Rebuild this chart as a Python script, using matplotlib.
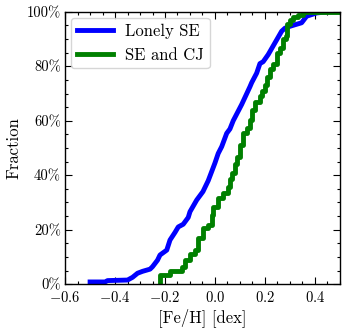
"""Cumulative [Fe/H] distributions for lonely super-Earths vs. SE with cold Jupiters."""

import matplotlib
matplotlib.use("Agg")
import matplotlib.pyplot as plt
from matplotlib.ticker import MultipleLocator, PercentFormatter

plt.rcParams["font.family"] = "serif"
plt.rcParams["font.serif"] = ["cmr10"]
plt.rcParams["mathtext.fontset"] = "cm"
plt.rcParams["axes.formatter.use_mathtext"] = True
plt.rcParams["axes.unicode_minus"] = True

# cumulative curves: [Fe/H] knot and fraction (%)
lonely_feh = [-0.50, -0.44, -0.43, -0.35, -0.33, -0.31, -0.29, -0.26, -0.25, -0.23,
              -0.22, -0.193, -0.18, -0.16, -0.147, -0.127, -0.107, -0.10, -0.073, -0.048,
              -0.027, 0.0, 0.013, 0.027, 0.047, 0.06, 0.073, 0.107, 0.14, 0.147,
              0.167, 0.18, 0.193, 0.213, 0.24, 0.267, 0.28, 0.30, 0.347, 0.367,
              0.407, 0.447, 0.50]
lonely_frac = [0.8, 0.8, 1.3, 1.5, 2.5, 4.0, 4.7, 5.5, 6.4, 8.8,
               10.7, 12.5, 16.2, 19.0, 21.0, 22.0, 24.5, 26.6, 30.9, 34.0,
               38.0, 44.5, 48.0, 50.5, 55.4, 57.0, 60.0, 66.0, 72.5, 74.0,
               77.5, 81.0, 81.7, 84.3, 88.6, 92.9, 94.0, 94.7, 96.0, 98.4,
               99.6, 100.0, 100.0]

cj_feh = [-0.22, -0.22, -0.18, -0.133, -0.12, -0.10, -0.08, -0.067, -0.047, -0.027,
          -0.013, -0.007, 0.013, 0.033, 0.053, 0.06, 0.067, 0.08, 0.087, 0.10,
          0.113, 0.127, 0.14, 0.15, 0.16, 0.18, 0.19, 0.20, 0.21, 0.22,
          0.233, 0.247, 0.26, 0.273, 0.283, 0.287, 0.30, 0.313, 0.333, 0.353, 0.50]
cj_frac = [0.0, 3.3, 4.8, 6.4, 8.8, 10.9, 12.5, 17.0, 20.6, 21.7,
           25.4, 28.4, 31.5, 33.5, 35.8, 38.5, 41.0, 44.0, 46.8, 51.0,
           55.4, 57.5, 60.3, 64.0, 67.0, 69.0, 71.0, 73.0, 76.0, 79.0,
           81.0, 85.0, 86.7, 90.0, 91.0, 95.4, 97.0, 98.0, 99.0, 100.0, 100.0]

BLUE = "blue"
GREEN = "green"

fig = plt.figure(figsize=(3.5, 3.3), dpi=100, facecolor="white")
ax = fig.add_subplot(111)

ax.plot(lonely_feh, [v / 100 for v in lonely_frac], color=BLUE, lw=3.5, label="Lonely SE")
ax.step(cj_feh, [v / 100 for v in cj_frac], where="post", color=GREEN, lw=3.5,
        label="SE and CJ")

ax.set_xlim(-0.6, 0.5)
ax.set_ylim(0, 1)
ax.xaxis.set_major_locator(MultipleLocator(0.2))
ax.xaxis.set_minor_locator(MultipleLocator(0.05))
ax.yaxis.set_major_locator(MultipleLocator(0.2))
ax.yaxis.set_minor_locator(MultipleLocator(0.05))
ax.yaxis.set_major_formatter(PercentFormatter(xmax=1, decimals=0))
ax.tick_params(which="both", direction="in", top=True, right=True, width=0.8,
               labelsize=10.5)
ax.tick_params(which="major", length=5, pad=3)
ax.tick_params(axis="x", which="major", pad=4.5)
ax.tick_params(which="minor", length=2.5)
for spine in ax.spines.values():
    spine.set_linewidth(1.0)

ax.set_xlabel("[Fe/H] [dex]", fontsize=12, labelpad=2)
ax.set_ylabel("Fraction", fontsize=12, labelpad=4)
ax.legend(loc="upper left", fontsize=12, handlelength=2.2, borderaxespad=0.35,
          handletextpad=0.7, borderpad=0.35)

fig.subplots_adjust(left=0.186, right=0.971, bottom=0.139, top=0.964)
fig.savefig("out.png", dpi=100, facecolor="white")
